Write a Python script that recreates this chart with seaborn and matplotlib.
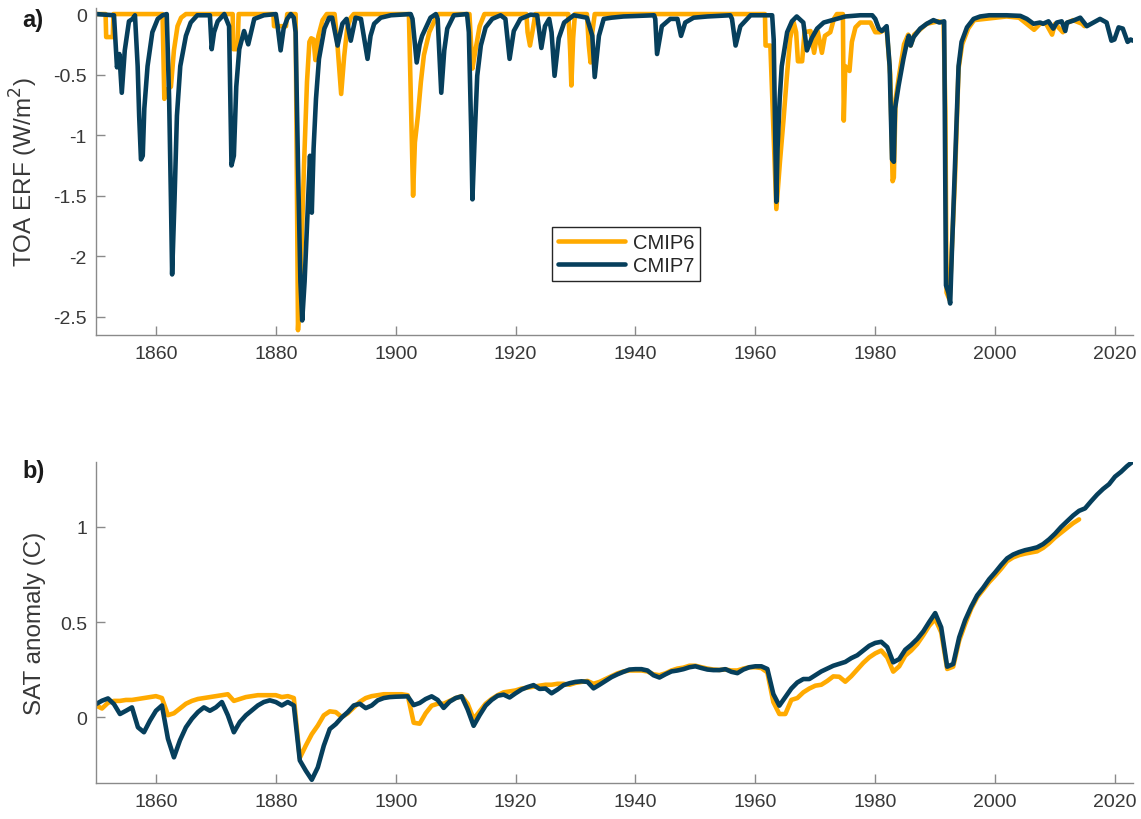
import numpy as np
import pandas as pd
import matplotlib
matplotlib.use("Agg")
import matplotlib.pyplot as plt
import seaborn as sns

# ---------------- data ----------------
# Volcanic effective radiative forcing at top of atmosphere (W/m^2): (year, value) vertices
erf6_points = [
    (1850.0, 0.0), (1851.6, 0.0), (1851.7, -0.19), (1852.8, -0.19), (1852.9, 0.0), (1861.1, 0.0),
    (1861.4, -0.70), (1862.0, -0.62), (1862.5, -0.60), (1863.0, -0.30), (1863.6, -0.10), (1864.2, -0.03),
    (1865.0, 0.0), (1872.8, 0.0), (1872.9, -0.29), (1873.6, -0.29), (1873.8, 0.0), (1879.6, 0.0),
    (1879.7, -0.10), (1881.7, -0.10), (1881.9, 0.0), (1883.3, 0.0), (1883.7, -2.61), (1884.2, -2.08),
    (1884.7, -1.25), (1885.2, -0.56), (1885.6, -0.23), (1885.9, -0.20), (1886.3, -0.21), (1886.6, -0.38),
    (1887.1, -0.18), (1887.8, -0.05), (1888.5, 0.0), (1889.8, 0.0), (1890.2, -0.20), (1890.9, -0.66),
    (1891.4, -0.35), (1891.9, -0.12), (1892.5, -0.03), (1893.0, 0.0), (1902.2, 0.0), (1902.9, -1.50),
    (1903.2, -1.06), (1903.7, -0.84), (1904.2, -0.56), (1904.7, -0.34), (1905.6, -0.15), (1906.7, -0.03),
    (1907.2, 0.0), (1912.3, 0.0), (1912.8, -0.45), (1913.3, -0.30), (1914.0, -0.10), (1914.8, 0.0),
    (1921.8, 0.0), (1922.0, -0.15), (1922.4, -0.26), (1922.9, -0.12), (1923.3, 0.0), (1928.8, 0.0),
    (1929.1, -0.30), (1929.3, -0.59), (1929.6, -0.20), (1929.9, 0.0), (1931.9, 0.0), (1932.2, -0.25),
    (1932.5, -0.40), (1932.8, -0.15), (1933.2, 0.0), (1961.6, 0.0), (1961.7, -0.26), (1962.5, -0.26),
    (1963.5, -1.61), (1964.1, -1.22), (1964.7, -0.87), (1965.2, -0.55), (1965.8, -0.20), (1966.4, -0.07),
    (1966.8, -0.15), (1967.1, -0.39), (1967.8, -0.39), (1968.2, -0.15), (1969.2, -0.14), (1969.8, -0.32),
    (1970.4, -0.14), (1971.1, -0.32), (1971.6, -0.18), (1972.5, -0.15), (1973.1, -0.04), (1973.6, 0.0),
    (1974.6, 0.0), (1974.75, -0.88), (1975.0, -0.43), (1975.7, -0.47), (1976.1, -0.23), (1976.7, -0.11),
    (1977.5, -0.07), (1979.2, -0.07), (1980.0, -0.15), (1980.8, -0.15), (1981.9, -0.12), (1982.5, -0.50),
    (1982.9, -1.38), (1983.1, -1.35), (1983.4, -0.70), (1984.0, -0.50), (1984.8, -0.25), (1985.5, -0.17),
    (1985.9, -0.26), (1986.5, -0.17), (1988.6, -0.08), (1990.5, -0.06), (1991.4, -0.07), (1991.7, -0.80),
    (1991.9, -2.30), (1992.4, -2.36), (1992.9, -1.80), (1993.3, -1.36), (1993.9, -0.45), (1994.5, -0.25),
    (1995.5, -0.12), (1996.5, -0.05), (2001.9, -0.02), (2004.0, -0.03), (2005.0, -0.07), (2006.5, -0.13),
    (2007.5, -0.08), (2008.5, -0.08), (2009.5, -0.17), (2010.0, -0.08), (2011.3, -0.15), (2011.8, -0.08),
    (2013.0, -0.05), (2014.5, -0.08), (2014.9, -0.10),
]

erf7_points = [
    (1850.0, 0.0), (1853.0, -0.01), (1853.5, -0.44), (1853.9, -0.33), (1854.3, -0.65), (1854.8, -0.30),
    (1855.5, -0.06), (1856.1, -0.04), (1856.5, -0.01), (1856.95, -0.43), (1857.2, -0.84), (1857.5, -1.20),
    (1857.8, -1.17), (1858.06, -0.78), (1858.6, -0.43), (1859.4, -0.15), (1860.3, -0.04), (1861.1, -0.01),
    (1861.8, 0.0), (1862.2, -0.70), (1862.5, -1.53), (1862.7, -2.15), (1863.1, -1.53), (1863.5, -0.84),
    (1864.06, -0.43), (1865.0, -0.18), (1865.8, -0.07), (1866.9, -0.01), (1869.0, -0.01), (1869.3, -0.29),
    (1869.7, -0.15), (1870.3, -0.06), (1871.4, 0.0), (1872.2, -0.10), (1872.6, -1.25), (1873.0, -1.17),
    (1873.4, -0.60), (1873.9, -0.29), (1874.7, -0.14), (1875.4, -0.25), (1876.4, -0.04), (1878.0, -0.01),
    (1880.0, 0.0), (1880.3, -0.10), (1880.8, -0.30), (1881.3, -0.12), (1881.9, -0.04), (1882.5, 0.0),
    (1883.0, -0.03), (1883.3, -0.15), (1883.7, -1.25), (1884.1, -2.21), (1884.4, -2.53), (1884.8, -2.21),
    (1885.3, -1.64), (1885.7, -1.17), (1886.0, -1.64), (1886.3, -1.11), (1886.7, -0.70), (1887.2, -0.37),
    (1888.1, -0.12), (1888.9, -0.03), (1889.4, -0.03), (1890.3, -0.26), (1891.1, -0.08), (1891.8, -0.04),
    (1892.5, -0.22), (1893.3, -0.03), (1894.2, -0.04), (1895.3, -0.37), (1895.8, -0.18), (1896.4, -0.08),
    (1897.5, -0.03), (1899.2, -0.01), (1902.5, 0.0), (1902.8, -0.04), (1903.5, -0.40), (1904.0, -0.25),
    (1904.4, -0.18), (1905.8, -0.03), (1906.7, 0.0), (1907.0, -0.04), (1907.6, -0.65), (1908.1, -0.30),
    (1908.6, -0.12), (1909.7, -0.01), (1911.9, 0.0), (1912.2, -0.15), (1912.6, -0.98), (1912.8, -1.53),
    (1913.2, -0.98), (1913.6, -0.51), (1914.2, -0.26), (1915.0, -0.11), (1916.1, -0.04), (1917.5, -0.01),
    (1918.3, -0.04), (1919.0, -0.37), (1919.7, -0.14), (1920.8, -0.04), (1922.5, -0.005), (1923.6, -0.01),
    (1924.3, -0.28), (1924.9, -0.10), (1925.6, -0.04), (1926.0, -0.15), (1926.5, -0.51), (1927.2, -0.20),
    (1928.1, -0.07), (1929.7, -0.01), (1931.9, -0.03), (1932.8, -0.18), (1933.2, -0.52), (1933.9, -0.18),
    (1934.7, -0.04), (1936.0, -0.03), (1938.0, -0.02), (1943.1, -0.01), (1943.3, -0.04), (1943.6, -0.33),
    (1944.4, -0.10), (1945.8, -0.04), (1947.0, -0.04), (1947.6, -0.18), (1948.3, -0.07), (1949.7, -0.03),
    (1952.0, -0.02), (1955.8, -0.01), (1956.1, -0.04), (1956.7, -0.26), (1957.5, -0.10), (1959.2, -0.01),
    (1962.8, -0.01), (1963.06, -0.21), (1963.3, -0.98), (1963.5, -1.55), (1963.7, -1.11), (1964.06, -0.70),
    (1964.4, -0.43), (1965.3, -0.15), (1966.1, -0.06), (1966.9, -0.02), (1968.0, -0.07), (1968.6, -0.30),
    (1969.4, -0.20), (1970.3, -0.12), (1971.4, -0.07), (1973.6, -0.04), (1975.0, -0.02), (1977.5, -0.01),
    (1979.5, -0.01), (1980.0, -0.04), (1980.6, -0.12), (1981.1, -0.14), (1981.9, -0.10), (1982.4, -0.43),
    (1982.8, -1.20), (1983.1, -1.22), (1983.3, -0.78), (1983.9, -0.59), (1984.7, -0.37), (1985.3, -0.23),
    (1985.6, -0.18), (1985.9, -0.26), (1986.4, -0.19), (1987.5, -0.12), (1988.6, -0.08), (1989.7, -0.05),
    (1990.7, -0.07), (1991.5, -0.06), (1991.7, -1.53), (1991.8, -2.24), (1992.2, -2.30), (1992.5, -2.39),
    (1992.8, -1.94), (1993.1, -1.53), (1993.5, -0.98), (1993.9, -0.43), (1994.4, -0.23), (1995.3, -0.11),
    (1996.4, -0.04), (1997.5, -0.02), (1999.0, -0.01), (2001.9, -0.01), (2004.2, -0.015), (2005.3, -0.04),
    (2006.4, -0.08), (2007.5, -0.07), (2008.0, -0.08), (2008.9, -0.06), (2009.7, -0.12), (2010.3, -0.07),
    (2011.1, -0.06), (2011.7, -0.14), (2012.0, -0.07), (2013.0, -0.055), (2014.2, -0.03), (2015.3, -0.10),
    (2016.4, -0.07), (2017.5, -0.04), (2018.6, -0.07), (2019.4, -0.22), (2019.9, -0.21), (2020.6, -0.11),
    (2021.3, -0.12), (2022.1, -0.23), (2022.6, -0.21), (2023.0, -0.22),
]

# Annual global surface air temperature anomaly (C)
sat6_years = list(range(1850, 2015))
sat6_val = [0.061, 0.045, 0.075, 0.085, 0.085, 0.09, 0.09, 0.095, 0.1, 0.105,
            0.11, 0.10, 0.01, 0.02, 0.045, 0.07, 0.085, 0.095, 0.1, 0.105,
            0.11, 0.115, 0.12, 0.085, 0.095, 0.105, 0.11, 0.115, 0.115, 0.115,
            0.115, 0.105, 0.11, 0.1, -0.215, -0.15, -0.09, -0.045, 0.009, 0.03,
            0.026, 0.0, 0.02, 0.05, 0.08, 0.1, 0.11, 0.115, 0.12, 0.12,
            0.12, 0.12, 0.115, -0.03, -0.035, 0.02, 0.06, 0.07, 0.07, 0.085,
            0.1, 0.11, 0.07, -0.01, 0.03, 0.07, 0.095, 0.115, 0.13, 0.135,
            0.14, 0.15, 0.155, 0.16, 0.165, 0.17, 0.17, 0.175, 0.175, 0.17,
            0.18, 0.185, 0.19, 0.175, 0.185, 0.2, 0.215, 0.23, 0.24, 0.245,
            0.245, 0.245, 0.24, 0.225, 0.22, 0.23, 0.245, 0.255, 0.26, 0.27,
            0.27, 0.262, 0.255, 0.25, 0.248, 0.25, 0.245, 0.245, 0.255, 0.262,
            0.262, 0.258, 0.235, 0.079, 0.016, 0.016, 0.09, 0.1, 0.13, 0.15,
            0.165, 0.17, 0.19, 0.214, 0.212, 0.186, 0.215, 0.25, 0.285, 0.314,
            0.335, 0.35, 0.314, 0.239, 0.267, 0.323, 0.35, 0.384, 0.43, 0.48,
            0.516, 0.446, 0.253, 0.265, 0.402, 0.49, 0.57, 0.63, 0.67, 0.71,
            0.744, 0.78, 0.82, 0.84, 0.852, 0.86, 0.866, 0.872, 0.89, 0.915,
            0.945, 0.97, 0.995, 1.02, 1.04]

sat7_years = list(range(1850, 2024))
sat7_val = [0.068, 0.086, 0.098, 0.068, 0.016, 0.033, 0.051, -0.054, -0.080, -0.019,
            0.033, 0.061, -0.114, -0.212, -0.123, -0.054, -0.009, 0.026, 0.051, 0.033,
            0.051, 0.079, 0.009, -0.080, -0.026, 0.009, 0.035, 0.061, 0.079, 0.088,
            0.079, 0.061, 0.079, 0.061, -0.228, -0.282, -0.330, -0.265, -0.151, -0.063,
            -0.037, -0.002, 0.026, 0.061, 0.070, 0.047, 0.061, 0.088, 0.100, 0.105,
            0.107, 0.108, 0.109, 0.063, 0.074, 0.095, 0.109, 0.09, 0.048, 0.081,
            0.100, 0.109, 0.04, -0.046, 0.01, 0.060, 0.09, 0.112, 0.118, 0.103,
            0.125, 0.145, 0.158, 0.168, 0.148, 0.15, 0.125, 0.145, 0.168, 0.178,
            0.185, 0.188, 0.185, 0.151, 0.17, 0.19, 0.21, 0.225, 0.238, 0.25,
            0.252, 0.252, 0.245, 0.22, 0.208, 0.225, 0.24, 0.245, 0.252, 0.262,
            0.267, 0.258, 0.25, 0.247, 0.247, 0.252, 0.238, 0.231, 0.25, 0.262,
            0.267, 0.267, 0.253, 0.121, 0.060, 0.105, 0.15, 0.182, 0.200, 0.200,
            0.22, 0.24, 0.255, 0.27, 0.28, 0.29, 0.31, 0.325, 0.35, 0.375,
            0.39, 0.396, 0.368, 0.288, 0.305, 0.354, 0.38, 0.411, 0.45, 0.5,
            0.547, 0.472, 0.265, 0.279, 0.419, 0.51, 0.58, 0.64, 0.68, 0.725,
            0.761, 0.80, 0.835, 0.855, 0.868, 0.878, 0.885, 0.893, 0.91, 0.935,
            0.965, 1.0, 1.03, 1.06, 1.085, 1.098, 1.135, 1.17, 1.2, 1.225,
            1.265, 1.29, 1.32, 1.345]

series_names = ["CMIP6", "CMIP7"]
series_colors = {"CMIP6": "#FFAA00", "CMIP7": "#063F5C"}

x_ticks = [1860, 1880, 1900, 1920, 1940, 1960, 1980, 2000, 2020]
erf_ticks = [0, -0.5, -1, -1.5, -2, -2.5]
erf_tick_labels = ["0", "-0.5", "-1", "-1.5", "-2", "-2.5"]
sat_ticks = [0, 0.5, 1]
sat_tick_labels = ["0", "0.5", "1"]

# ---------------- style ----------------
sns.set_style("ticks")
plt.rcParams["font.family"] = ["Liberation Sans", "DejaVu Sans"]
plt.rcParams["axes.unicode_minus"] = False

spine_col = "#8a8a8a"
text_col = "#383838"

fig = plt.figure(figsize=(11.41, 8.2), dpi=100)
W, H = 1141, 820
ax_a = fig.add_axes([96 / W, 1 - 336 / H, 1037 / W, 327 / H])
ax_b = fig.add_axes([96 / W, 1 - 784 / H, 1037 / W, 321 / H])

erf = pd.concat([
    pd.DataFrame({"year": [p[0] for p in erf6_points], "value": [p[1] for p in erf6_points], "run": "CMIP6"}),
    pd.DataFrame({"year": [p[0] for p in erf7_points], "value": [p[1] for p in erf7_points], "run": "CMIP7"}),
])
sat = pd.concat([
    pd.DataFrame({"year": sat6_years, "value": sat6_val, "run": "CMIP6"}),
    pd.DataFrame({"year": sat7_years, "value": sat7_val, "run": "CMIP7"}),
])

for ax, df in [(ax_a, erf), (ax_b, sat)]:
    for name in series_names:
        sub = df[df["run"] == name]
        sns.lineplot(data=sub, x="year", y="value", ax=ax, color=series_colors[name],
                     lw=3.3, estimator=None, sort=False, label=name, legend=False,
                     solid_joinstyle="round", solid_capstyle="round")

for ax in (ax_a, ax_b):
    ax.set_xlim(1850, 2023)
    ax.set_xticks(x_ticks)
    ax.set_xticklabels([str(t) for t in x_ticks])
    for s in ("top", "right"):
        ax.spines[s].set_visible(False)
    for s in ("left", "bottom"):
        ax.spines[s].set_color(spine_col)
        ax.spines[s].set_linewidth(1.0)
    ax.tick_params(direction="in", length=6.5, width=1.0, color=spine_col,
                   labelcolor=text_col, labelsize=14)
    ax.tick_params(axis="y", pad=6.5)
    ax.tick_params(axis="x", pad=7)
    ax.set_xlabel("")

ax_a.set_ylim(-2.65, 0.05)
ax_a.set_yticks(erf_ticks)
ax_a.set_yticklabels(erf_tick_labels)
ax_a.set_ylabel("TOA ERF (W/m$^2$)", fontsize=17.5, color=text_col)
ax_a.yaxis.set_label_coords(-0.054, 0.5)

ax_b.set_ylim(-0.347, 1.342)
ax_b.set_yticks(sat_ticks)
ax_b.set_yticklabels(sat_tick_labels)
ax_b.set_ylabel("SAT anomaly (C)", fontsize=17.5, color=text_col)
ax_b.yaxis.set_label_coords(-0.048, 0.5)

leg = ax_a.legend(loc="upper left", bbox_to_anchor=(456 / 1037, (336 - 228) / 327),
                  fontsize=14.5, frameon=True, fancybox=False, framealpha=1,
                  handlelength=3.3, handletextpad=0.4, labelspacing=0.2,
                  borderpad=0.3, borderaxespad=0)
leg.get_frame().set_edgecolor("#262626")
leg.get_frame().set_linewidth(1.0)
for t in leg.get_texts():
    t.set_color("#262626")

fig.text(22 / W, 1 - 27 / H, "a)", fontsize=17, fontweight="bold", color="#1a1a1a",
         ha="left", va="baseline")
fig.text(22 / W, 1 - 478 / H, "b)", fontsize=17, fontweight="bold", color="#1a1a1a",
         ha="left", va="baseline")

fig.savefig("out.png", dpi=100, facecolor="white")
